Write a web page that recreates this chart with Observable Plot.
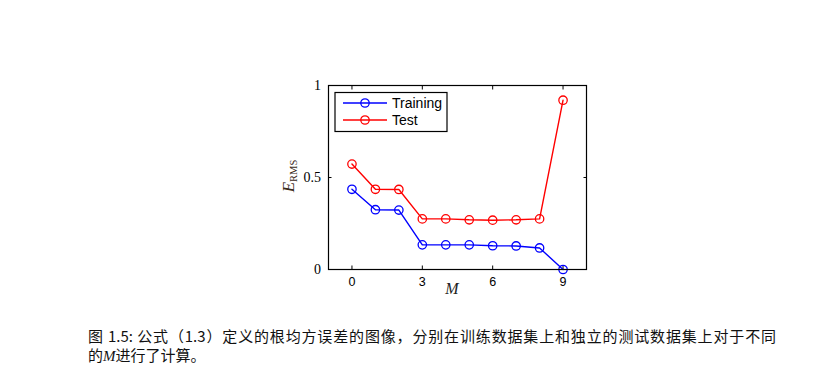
<!DOCTYPE html>
<html>
<head>
<meta charset="utf-8">
<script src="https://cdn.jsdelivr.net/npm/d3@7"></script>
<script src="https://cdn.jsdelivr.net/npm/@observablehq/plot@0.6"></script>
<style>
  html, body { margin: 0; padding: 0; background: #fff; }
  #wrap { position: relative; width: 836px; height: 382px; }
  #caption {
    position: absolute; left: 88px; top: 326px; width: 688px;
    font-family: "Noto Sans CJK SC", "Liberation Serif", serif;
    font-size: 15px; line-height: 19px; color: #111;
  }
  #caption .l1 { text-align: justify; text-align-last: justify; white-space: nowrap; }
  #caption i { font-family: "Liberation Serif", serif; font-size: 15px; }
</style>
</head>
<body>
<div id="wrap">
  <div id="chart"></div>
  <div id="caption"><div class="l1">图 1.5: 公式（1.3）定义的根均方误差的图像，分别在训练数据集上和独立的测试数据集上对于不同</div><div>的<i>M</i>进行了计算。</div></div>
</div>
<script>
const M = [0, 1, 2, 3, 4, 5, 6, 7, 8, 9];
const training = [0.436, 0.325, 0.323, 0.134, 0.134, 0.134, 0.129, 0.128, 0.117, 0.0];
const test = [0.573, 0.436, 0.435, 0.275, 0.275, 0.270, 0.268, 0.270, 0.275, 0.920];
const seriesNames = ["Training", "Test"];
const seriesColors = ["#0000ff", "#ff0000"];
const xTicks = [0, 3, 6, 9];
const yTicks = [0, 0.5, 1];
const yTickLabels = ["0", "0.5", "1"];

const rows = [
  ...M.map((m, i) => ({M: m, E: training[i], series: seriesNames[0]})),
  ...M.map((m, i) => ({M: m, E: test[i], series: seriesNames[1]}))
];

const chart = Plot.plot({
  width: 836,
  height: 300,
  marginLeft: 328,
  marginRight: 250,
  marginTop: 85,
  marginBottom: 31,
  style: {background: "#fff", color: "#000", fontSize: "12.5px", fontFamily: "Liberation Sans, Arial, sans-serif"},
  x: {domain: [-1, 10], label: null},
  y: {domain: [0, 1], label: null},
  color: {domain: seriesNames, range: seriesColors},
  marks: [
    Plot.axisX({ticks: xTicks, tickSize: -3.5, tickPadding: 11, tickFormat: d => String(d), stroke: "#000"}),
    Plot.axisX({anchor: "top", ticks: xTicks, tickSize: -3.5, tickFormat: () => "", stroke: "#000"}),
    Plot.axisY({ticks: yTicks, tickSize: -3.5, tickPadding: 11, tickFormat: d => yTickLabels[yTicks.indexOf(d)], stroke: "#000", className: "yax"}),
    Plot.axisY({anchor: "right", ticks: yTicks, tickSize: -3.5, tickFormat: () => "", stroke: "#000"}),
    Plot.line(rows, {x: "M", y: "E", z: "series", stroke: "series", strokeWidth: 1.4}),
    Plot.dot(rows, {x: "M", y: "E", stroke: "series", r: 4.2, strokeWidth: 1.3, fill: "none"}),
    Plot.frame({stroke: "#000", strokeWidth: 1.2})
  ]
});
document.getElementById("chart").appendChild(chart);

// Axis titles and legend drawn into the plot svg
const svg = d3.select(chart);
svg.selectAll("g[aria-label='y-axis tick label']")
  .attr("font-family", "Liberation Serif, Times New Roman, serif")
  .attr("font-size", 14);
const pL = 328, pT = 85, pR = 836 - 250, pB = 300 - 31;

// y label: E_RMS rotated
const yl = svg.append("text")
  .attr("transform", `translate(${294},${(pT + pB) / 2 - 1}) rotate(-90)`)
  .attr("text-anchor", "middle")
  .attr("fill", "#3a2a1a")
  .attr("font-family", "Liberation Serif, Times New Roman, serif");
yl.append("tspan").attr("font-style", "italic").attr("font-size", 17).text("E");
yl.append("tspan").attr("font-size", 10.5).attr("dy", 3).text("RMS");

// x label: M
svg.append("text")
  .attr("x", (pL + pR) / 2 - 5)
  .attr("y", pB + 25)
  .attr("text-anchor", "middle")
  .attr("font-family", "Liberation Serif, Times New Roman, serif")
  .attr("font-style", "italic")
  .attr("font-size", 16)
  .attr("fill", "#222")
  .text("M");

// legend
const lg = svg.append("g").attr("transform", `translate(${pL + 7},${pT + 7.5})`);
lg.append("rect").attr("width", 112).attr("height", 39).attr("fill", "#fff").attr("stroke", "#000").attr("stroke-width", 1.2);
seriesNames.forEach((name, i) => {
  const y = 10.5 + i * 17;
  lg.append("line").attr("x1", 8).attr("x2", 52).attr("y1", y).attr("y2", y)
    .attr("stroke", seriesColors[i]).attr("stroke-width", 1.4);
  lg.append("circle").attr("cx", 30).attr("cy", y).attr("r", 4.2)
    .attr("fill", "none").attr("stroke", seriesColors[i]).attr("stroke-width", 1.3);
  lg.append("text").attr("x", 57).attr("y", y).attr("dy", "0.35em")
    .attr("text-anchor", "start")
    .attr("font-family", "Liberation Sans, Arial, sans-serif").attr("font-size", 14)
    .attr("fill", "#000").text(name);
});
</script>
</body>
</html>
